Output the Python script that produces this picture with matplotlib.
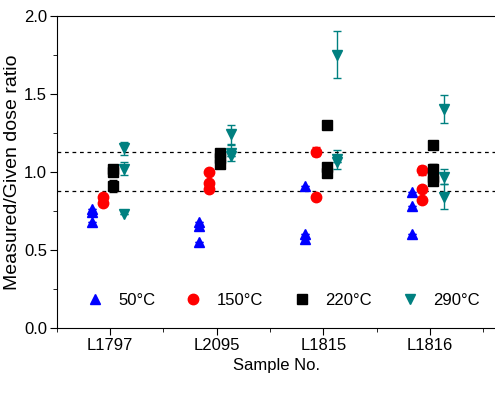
import matplotlib
matplotlib.use('Agg')
import matplotlib.pyplot as plt
from matplotlib.ticker import MultipleLocator, FormatStrFormatter
from matplotlib.lines import Line2D

plt.rcParams['font.family'] = ['Liberation Sans', 'DejaVu Sans']

samples = ['L1797', 'L2095', 'L1815', 'L1816']
temps = ['50°C', '150°C', '220°C', '290°C']

# ratio values per sample for each preheat temperature (value, error)
r50 = [[(0.76, 0), (0.74, 0), (0.68, 0)],
       [(0.68, 0), (0.65, 0), (0.55, 0)],
       [(0.91, 0), (0.60, 0), (0.57, 0)],
       [(0.87, 0), (0.78, 0), (0.60, 0)]]
r150 = [[(0.84, 0), (0.80, 0)],
        [(1.00, 0), (0.93, 0), (0.89, 0)],
        [(1.13, 0.03), (0.84, 0)],
        [(1.01, 0.03), (0.89, 0), (0.82, 0)]]
r220 = [[(1.02, 0), (1.00, 0), (0.91, 0.04)],
        [(1.12, 0.02), (1.09, 0), (1.05, 0)],
        [(1.30, 0), (1.03, 0), (0.99, 0)],
        [(1.17, 0), (1.02, 0.03), (0.97, 0), (0.94, 0)]]
r290 = [[(1.15, 0.04), (1.02, 0.04), (0.73, 0)],
        [(1.24, 0.06), (1.12, 0.05), (1.10, 0)],
        [(1.75, 0.15), (1.08, 0.06), (1.06, 0)],
        [(1.40, 0.09), (0.97, 0.05), (0.84, 0.08)]]

series = [r50, r150, r220, r290]
colors = ['#0000ff', '#ff0000', '#000000', '#008080']
markers = ['^', 'o', 's', 'v']
offsets = [-0.17, -0.07, 0.03, 0.13]

fig = plt.figure(figsize=(4.95, 3.95), dpi=100)
ax = fig.add_axes([0.115, 0.17, 0.887, 0.79])

for k in range(4):
    for i in range(len(samples)):
        pts = series[k][i]
        xs = [i + 1 + offsets[k]] * len(pts)
        ys = [p[0] for p in pts]
        es = [p[1] for p in pts]
        ax.errorbar(xs, ys, yerr=es, fmt=markers[k], color=colors[k],
                    ms=7.5, capsize=3, elinewidth=1, capthick=1)

ax.axhline(1.125, color='k', ls=(0, (3, 3)), lw=0.9)
ax.axhline(0.875, color='k', ls=(0, (3, 3)), lw=0.9)

ax.set_xlim(0.5, 4.62)
ax.set_ylim(0, 2.0)
ax.set_xticks([1, 2, 3, 4])
ax.set_xticklabels(samples)
ax.xaxis.set_minor_locator(MultipleLocator(0.5))
ax.yaxis.set_major_locator(MultipleLocator(0.5))
ax.yaxis.set_minor_locator(MultipleLocator(0.25))
ax.yaxis.set_major_formatter(FormatStrFormatter('%.1f'))
ax.tick_params(labelsize=12, length=5, width=0.8, pad=2)
ax.tick_params(which='minor', length=3)
ax.spines['right'].set_visible(False)
ax.set_xlabel('Sample No.', fontsize=12)
ax.set_ylabel('Measured/Given dose ratio', fontsize=14, labelpad=2)

handles = [Line2D([], [], ls='none', marker=markers[k], color=colors[k], ms=7.5)
           for k in range(4)]
ax.legend(handles, temps, loc='lower center', ncol=4, frameon=False,
          fontsize=12, handletextpad=0.9, columnspacing=1.8,
          bbox_to_anchor=(0.515, 0.015), handlelength=1.0)

fig.savefig('out.png', dpi=100)
